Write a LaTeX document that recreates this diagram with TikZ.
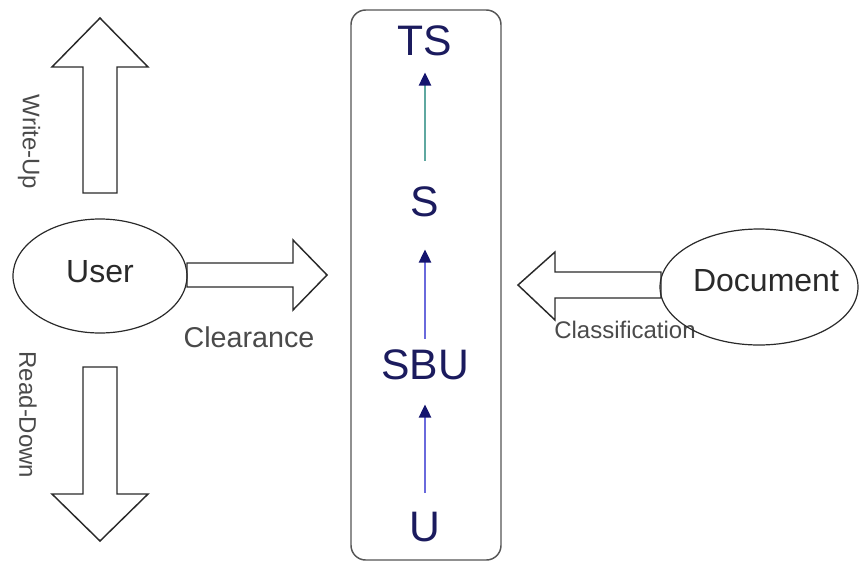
\documentclass[tikz,border=0pt]{standalone}
\usepackage{fontspec}
\setmainfont{Liberation Sans}
\usetikzlibrary{arrows.meta,shapes.geometric}
\definecolor{navy}{HTML}{1B1B5E}
\definecolor{tiphue}{HTML}{14146E}
\definecolor{tealline}{HTML}{5FA8A0}
\definecolor{blueline}{HTML}{6A6ADC}
\definecolor{ink}{HTML}{2A2A2A}
\tikzset{
  blockarrow/.style={draw=ink, line width=1.1pt, fill=white, line join=miter},
  entity/.style={ellipse, draw=ink, line width=0.9pt, inner sep=0pt},
  bigtext/.style={text=ink, font=\fontsize{24}{28}\selectfont},
  labeltext/.style={text=ink!85, font=\fontsize{18}{21}\selectfont},
  leveltext/.style={text=navy, font=\fontsize{32}{36}\selectfont, inner sep=0pt},
  levelarrow/.style={line width=2.2pt, -{Triangle[length=10pt,width=9pt,color=tiphue]}}
}
\begin{document}
\begin{tikzpicture}[x=0.75pt,y=-0.75pt]
\useasboundingbox (0,0) rectangle (861,562);

% central box
\draw[draw=ink!80, line width=1.1pt, rounded corners=11pt] (351,10) rectangle (501,560);

% levels
\node[leveltext] (TS) at (425,41) {TS};
\node[leveltext] (S) at (425,202) {S};
\node[leveltext] (SBU) at (425,365) {SBU};
\node[leveltext] (U) at (425,527) {U};

\draw[levelarrow, draw=tealline, shorten <=19.5pt, shorten >=12pt] (S) -- (TS);
\draw[levelarrow, draw=blueline, shorten <=8pt, shorten >=24pt] (SBU) -- (S);
\draw[levelarrow, draw=blueline, shorten <=14pt, shorten >=18pt] (U) -- (SBU);

% write-up arrow
\draw[blockarrow] (83,193) -- (83,67) -- (52,67) -- (100,18) -- (148,67) -- (117,67) -- (117,193) -- cycle;
\node[labeltext, rotate=-90] (wu) at (29,142) {Write-Up};

% read-down arrow
\draw[blockarrow] (83,367) -- (83,494) -- (52,494) -- (100,541) -- (148,494) -- (117,494) -- (117,367) -- cycle;
\node[labeltext, rotate=-90] (rd) at (28,415) {Read-Down};

% clearance arrow
\draw[blockarrow] (187,263) -- (293,263) -- (293,240) -- (327,275) -- (293,310) -- (293,287) -- (187,287) -- cycle;
\node[labeltext, font=\fontsize{21.5}{24}\selectfont] (cl) at (249,337) {Clearance};

% classification arrow
\draw[blockarrow] (661,272) -- (555,272) -- (555,252) -- (518,285) -- (555,320) -- (555,298) -- (661,298) -- cycle;
\node[labeltext] (cf) at (625,330) {Classification};

% entities
\node[entity, minimum width=130.5pt, minimum height=85.5pt] (user) at (100,276) {};
\node[bigtext] at (100,272) {User};
\node[entity, minimum width=148.5pt, minimum height=87pt] (doc) at (759,287) {};
\node[bigtext] at (766,281) {Document};
\end{tikzpicture}
\end{document}
